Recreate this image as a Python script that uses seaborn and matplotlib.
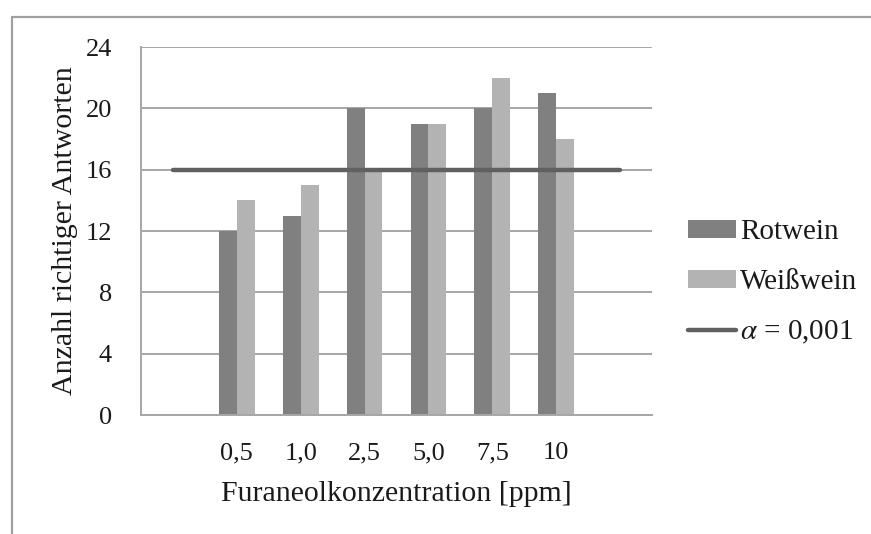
import matplotlib
matplotlib.use("Agg")
import matplotlib.pyplot as plt
from matplotlib.lines import Line2D
import seaborn as sns
import pandas as pd

# Concentrations (ppm) and counts of correct answers
konzentrationen = ["0,5", "1,0", "2,5", "5,0", "7,5", "10"]
rotwein = [12, 13, 20, 19, 20, 21]
weisswein = [14, 15, 16, 19, 22, 18]
schwelle = 16  # significance threshold, alpha = 0.001
y_ticks = [0, 4, 8, 12, 16, 20, 24]

df = pd.DataFrame({
    "Konzentration": konzentrationen * 2,
    "Anzahl": rotwein + weisswein,
    "Wein": ["Rotwein"] * len(rotwein) + ["Weißwein"] * len(weisswein),
})

sns.set_theme(style="white")
plt.rcParams["font.family"] = ["Liberation Serif", "DejaVu Serif"]
plt.rcParams["mathtext.fontset"] = "stix"
serif = ["Liberation Serif", "DejaVu Serif"]
text_col = "#1a1a1a"

fig = plt.figure(figsize=(8.71, 5.34), dpi=100)
ax = fig.add_axes([141 / 871, 1 - 415 / 534, 511 / 871, 368 / 534])

grid_col = "#a6a6a6"
ax.set_axisbelow(True)
ax.yaxis.grid(True, color=grid_col, linewidth=1.4)

sns.barplot(
    data=df, x="Konzentration", y="Anzahl", hue="Wein",
    order=konzentrationen, hue_order=["Rotwein", "Weißwein"],
    palette=["#808080", "#b3b3b3"], width=0.56, saturation=1,
    edgecolor="none", linewidth=0, errorbar=None, ax=ax, legend=True,
)

# threshold line across the full category range
ax.plot([-1, 6], [schwelle, schwelle], color="#606060", linewidth=3.2,
        solid_capstyle="round", label=r"$\alpha$ = 0,001", zorder=5)

ax.set_xlim(-1.5, 6.5)
ax.set_ylim(0, 24)
ax.set_yticks(y_ticks)
ax.set_yticklabels([str(v) for v in y_ticks], family=serif)

# tick marks on category boundaries, labels at category centres
ax.set_xticks([i - 0.5 for i in range(-1, 8)])
ax.set_xticklabels([])
ax.set_xticks(range(len(konzentrationen)), minor=True)
ax.set_xticklabels(konzentrationen, minor=True, family=serif)
ax.tick_params(axis="x", which="major", length=5.8, width=1.4, color=grid_col, direction="out")
ax.tick_params(axis="x", which="minor", length=0, pad=19.5, labelsize=19, labelcolor=text_col)
ax.tick_params(axis="y", length=5.8, width=1.4, color=grid_col, direction="out",
               pad=15, labelsize=19, labelcolor=text_col)

for side in ["top", "right"]:
    ax.spines[side].set_visible(False)
for side in ["left", "bottom"]:
    ax.spines[side].set_color(grid_col)
    ax.spines[side].set_linewidth(1.4)

ax.set_xlabel("Furaneolkonzentration [ppm]", fontsize=21.5, color=text_col,
              family=serif, labelpad=12.5)
ax.set_ylabel("Anzahl richtiger Antworten", fontsize=21.5, color=text_col, family=serif)
ax.yaxis.set_label_coords(-0.123, 0.5)

handles, labels = ax.get_legend_handles_labels()
ax.legend(handles, labels, loc="center left", bbox_to_anchor=(1.07, 0.36),
          frameon=False, prop={"family": serif, "size": 21}, labelcolor=text_col,
          handlelength=1.65, handleheight=0.58, handletextpad=0.15,
          labelspacing=0.82, borderaxespad=0, borderpad=0)

# outer chart frame (left and top edges)
fig.add_artist(Line2D([12 / 871, 12 / 871], [0, 1 - 17 / 534], color="#a0a0a0", linewidth=1.6))
fig.add_artist(Line2D([12 / 871, 1], [1 - 17 / 534, 1 - 17 / 534], color="#a0a0a0", linewidth=1.6))

fig.savefig("out.png", dpi=100)
